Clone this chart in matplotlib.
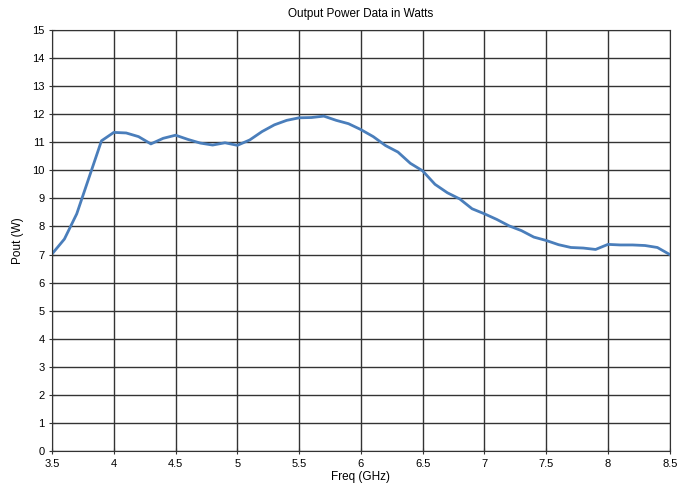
import numpy as np
import matplotlib
matplotlib.use('Agg')
import matplotlib.pyplot as plt

# Frequency sweep (GHz) and measured output power (W)
freq = [3.5, 3.6, 3.7, 3.8, 3.9, 4.0, 4.1, 4.2, 4.3, 4.4,
        4.5, 4.6, 4.7, 4.8, 4.9, 5.0, 5.1, 5.2, 5.3, 5.4,
        5.5, 5.6, 5.7, 5.8, 5.9, 6.0, 6.1, 6.2, 6.3, 6.4,
        6.5, 6.6, 6.7, 6.8, 6.9, 7.0, 7.1, 7.2, 7.3, 7.4,
        7.5, 7.6, 7.7, 7.8, 7.9, 8.0, 8.1, 8.2, 8.3, 8.4, 8.5]
pout = [7.02, 7.55, 8.45, 9.75, 11.05, 11.35, 11.33, 11.2, 10.94, 11.14,
        11.25, 11.1, 10.97, 10.9, 10.98, 10.89, 11.08, 11.38, 11.62, 11.78,
        11.87, 11.88, 11.93, 11.78, 11.66, 11.45, 11.2, 10.88, 10.65, 10.25,
        9.98, 9.5, 9.2, 8.98, 8.63, 8.45, 8.25, 8.02, 7.85, 7.62,
        7.5, 7.35, 7.25, 7.23, 7.18, 7.36, 7.34, 7.34, 7.32, 7.25, 7.0]

x_ticks = [3.5, 4, 4.5, 5, 5.5, 6, 6.5, 7, 7.5, 8, 8.5]
y_ticks = list(range(0, 16))

plt.rcParams['font.family'] = ['Liberation Sans', 'DejaVu Sans']

fig = plt.figure(figsize=(6.94, 4.91), dpi=100)
ax = fig.add_axes([0.075, 0.0815, 0.89, 0.8575])

ax.plot(freq, pout, color='#4a7ebb', linewidth=2)

ax.set_xlim(3.5, 8.5)
ax.set_ylim(0, 15)
ax.set_xticks(x_ticks)
ax.set_xticklabels([f"{t:g}" for t in x_ticks])
ax.set_yticks(y_ticks)
ax.grid(True, color='#333333', linewidth=1)
ax.set_axisbelow(True)
for s in ax.spines.values():
    s.set_color('#333333')
ax.tick_params(labelsize=8, length=4, color='#333333', direction='inout')

ax.set_title("Output Power Data in Watts", fontsize=8.5, pad=9)
ax.set_xlabel("Freq (GHz)", fontsize=8.5, labelpad=2)
ax.set_ylabel("Pout (W)", fontsize=8.5, labelpad=6)

fig.savefig("out.png", dpi=100)
